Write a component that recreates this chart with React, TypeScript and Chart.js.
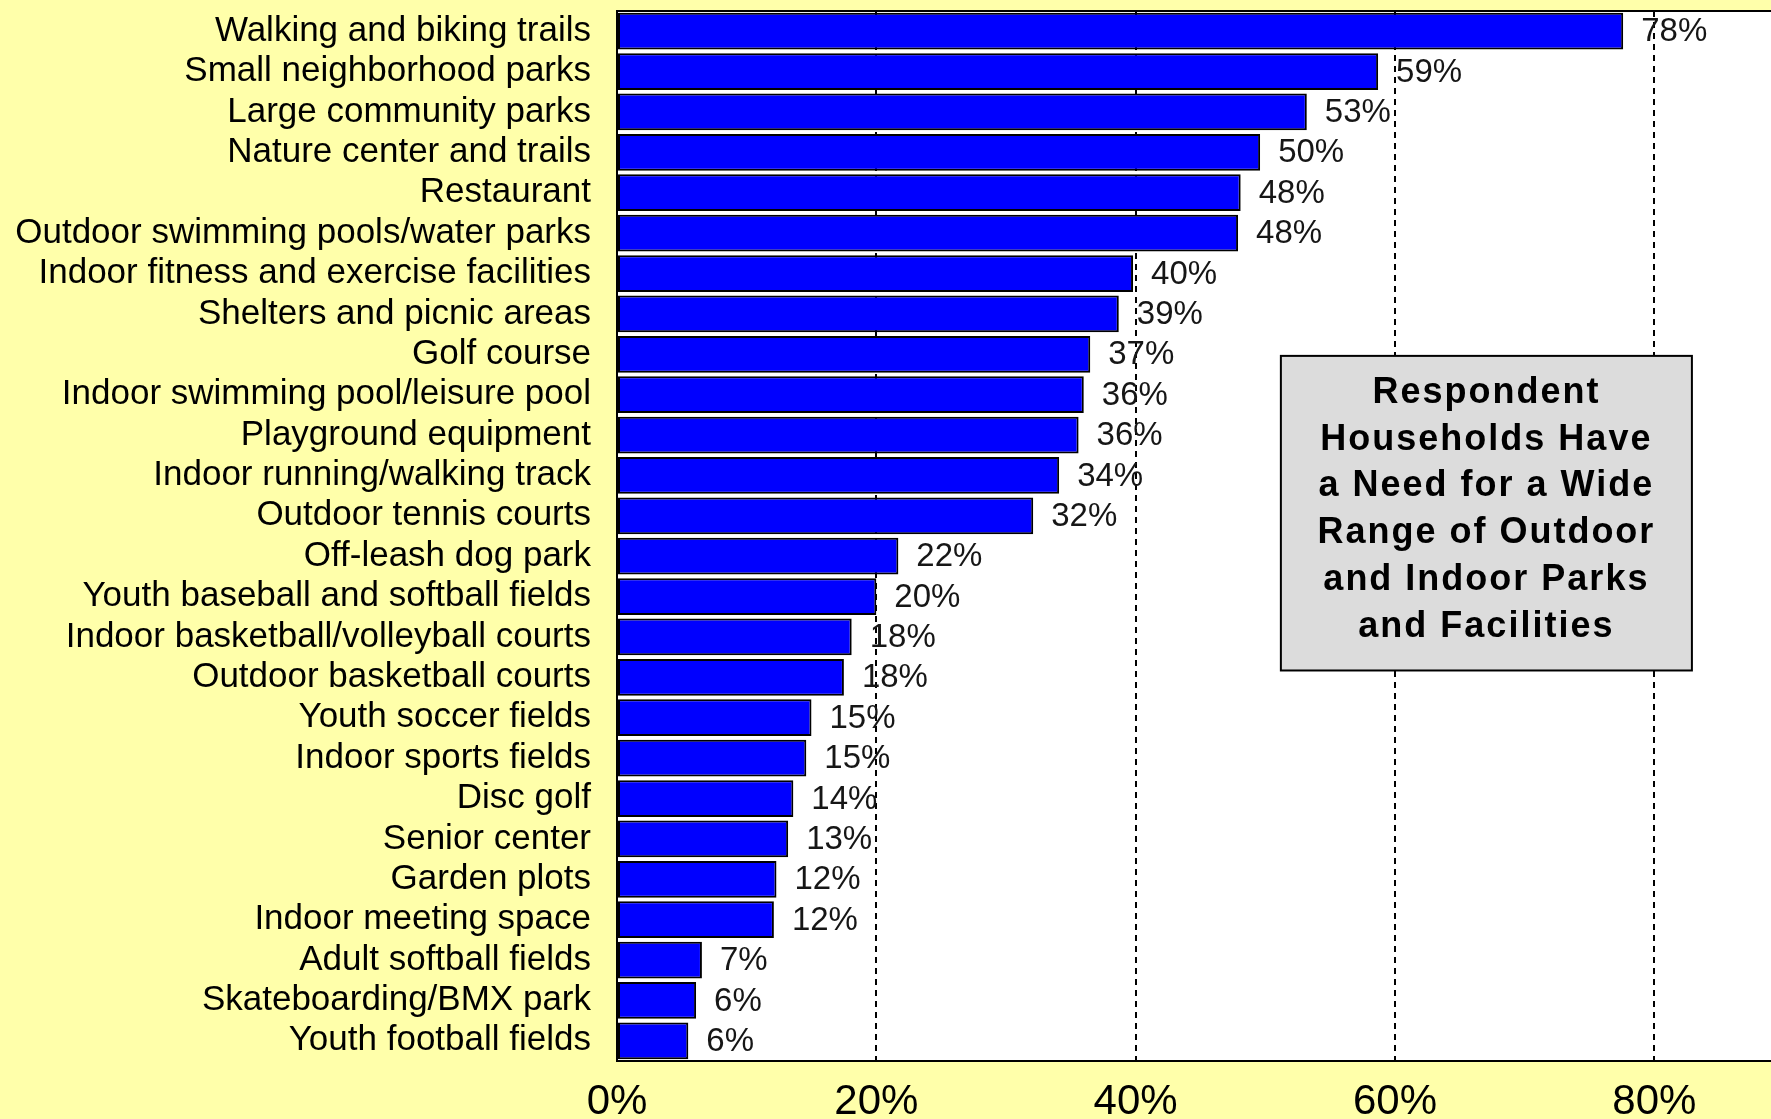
import React, { useEffect, useRef } from "react";
import { Chart, registerables } from "chart.js";

Chart.register(...registerables);

const categories = [
  "Walking and biking trails",
  "Small neighborhood parks",
  "Large community parks",
  "Nature center and trails",
  "Restaurant",
  "Outdoor swimming pools/water parks",
  "Indoor fitness and exercise facilities",
  "Shelters and picnic areas",
  "Golf course",
  "Indoor swimming pool/leisure pool",
  "Playground equipment",
  "Indoor running/walking track",
  "Outdoor tennis courts",
  "Off-leash dog park",
  "Youth baseball and softball fields",
  "Indoor basketball/volleyball courts",
  "Outdoor basketball courts",
  "Youth soccer fields",
  "Indoor sports fields",
  "Disc golf",
  "Senior center",
  "Garden plots",
  "Indoor meeting space",
  "Adult softball fields",
  "Skateboarding/BMX park",
  "Youth football fields",
];

const values = [
  77.6, 58.7, 53.2, 49.6, 48.1, 47.9, 39.8, 38.7, 36.5, 36.0, 35.6, 34.1, 32.1,
  21.7, 20.0, 18.1, 17.5, 15.0, 14.6, 13.6, 13.2, 12.3, 12.1, 6.55, 6.1, 5.5,
];

const xTickValues = [0, 20, 40, 60, 80];
const X_MAX = 89;

const noteLines = [
  "Respondent",
  "Households Have",
  "a Need for a Wide",
  "Range of Outdoor",
  "and Indoor Parks",
  "and Facilities",
];

const FONT = "'Liberation Sans', Arial, sans-serif";
const PAGE_BG = "#FFFFAA";

export default function App() {
  const ref = useRef<HTMLCanvasElement>(null);

  useEffect(() => {
    const canvas = ref.current;
    if (!canvas) return;

    const decorPlugin = {
      id: "decor",
      beforeDraw(chart: any) {
        const { ctx, chartArea: a } = chart;
        ctx.save();
        ctx.fillStyle = PAGE_BG;
        ctx.fillRect(0, 0, chart.width, chart.height);
        ctx.fillStyle = "#FFFFFF";
        ctx.fillRect(a.left, a.top, a.right - a.left, a.bottom - a.top);
        ctx.restore();
      },
      afterDatasetsDraw(chart: any) {
        const { ctx, chartArea: a } = chart;
        const meta = chart.getDatasetMeta(0);
        ctx.save();
        // value labels
        ctx.font = `33px ${FONT}`;
        ctx.fillStyle = "#161616";
        ctx.textAlign = "left";
        ctx.textBaseline = "middle";
        meta.data.forEach((bar: any, i: number) => {
          ctx.fillText(Math.round(values[i]) + "%", bar.x + 18, bar.y + 1);
        });
        // top border of plot
        ctx.strokeStyle = "#000";
        ctx.lineWidth = 2;
        ctx.beginPath();
        ctx.moveTo(a.left, a.top);
        ctx.lineTo(a.right + 2, a.top);
        ctx.stroke();

        // annotation box
        const xs = chart.scales.x;
        const ys = chart.scales.y;
        const left = xs.getPixelForValue(51.2);
        const right = xs.getPixelForValue(82.9);
        const top = ys.getPixelForValue(8.04);
        const bottom = ys.getPixelForValue(15.83);
        ctx.fillStyle = "#DCDCDC";
        ctx.fillRect(left, top, right - left, bottom - top);
        ctx.strokeStyle = "#000";
        ctx.lineWidth = 2;
        ctx.strokeRect(left, top, right - left, bottom - top);
        ctx.fillStyle = "#000";
        ctx.font = `bold 36px ${FONT}`;
        (ctx as any).letterSpacing = "2px";
        ctx.textAlign = "center";
        ctx.textBaseline = "alphabetic";
        const cx = (left + right) / 2;
        const lh = 46.8;
        noteLines.forEach((line, i) => {
          ctx.fillText(line, cx, top + 47 + i * lh);
        });
        ctx.restore();
      },
    };

    const chart = new Chart(canvas, {
      type: "bar",
      data: {
        labels: categories,
        datasets: [
          {
            data: values,
            backgroundColor: "#0000FF",
            borderColor: "#000000",
            borderWidth: 2,
            borderSkipped: false,
            barPercentage: 0.91,
            categoryPercentage: 1,
          },
        ],
      },
      options: {
        indexAxis: "y",
        animation: false,
        responsive: false,
        devicePixelRatio: 1,
        layout: { padding: { top: 11, left: 0, right: 0, bottom: 0 } },
        plugins: {
          legend: { display: false },
          tooltip: { enabled: false },
        },
        scales: {
          x: {
            type: "linear",
            min: 0,
            max: X_MAX,
            position: "bottom",
            afterBuildTicks: (scale: any) => {
              scale.ticks = xTickValues.map((v) => ({ value: v }));
            },
            afterFit: (scale: any) => {
              scale.height = 58;
              scale.paddingLeft = 0;
              scale.paddingRight = 0;
            },
            ticks: {
              callback: (v: any) => v + "%",
              font: { family: FONT, size: 42 },
              color: "#000",
              padding: 16,
              maxRotation: 0,
            },
            grid: {
              color: (c: any) =>
                c.tick && c.tick.value === 0 ? "rgba(0,0,0,0)" : "#000",
              lineWidth: 2,
              drawTicks: false,
            },
            border: { display: true, color: "#000", width: 2, dash: [6, 5] },
          },
          y: {
            type: "category",
            afterFit: (scale: any) => {
              scale.width = 617;
              scale.paddingTop = 0;
              scale.paddingBottom = 0;
            },
            ticks: {
              font: { family: FONT, size: 35 },
              color: "#000",
              padding: 26,
              autoSkip: false,
            },
            grid: { display: false, drawTicks: false },
            border: { display: true, color: "#000", width: 2 },
          },
        },
      },
      plugins: [decorPlugin],
    } as any);

    return () => chart.destroy();
  }, []);

  return (
    <div
      style={{
        position: "fixed",
        left: 0,
        top: 0,
        width: 1771,
        height: 1119,
        background: PAGE_BG,
        overflow: "hidden",
      }}
    >
      <canvas
        ref={ref}
        width={1771}
        height={1119}
        style={{ display: "block", width: 1771, height: 1119 }}
      />
    </div>
  );
}
